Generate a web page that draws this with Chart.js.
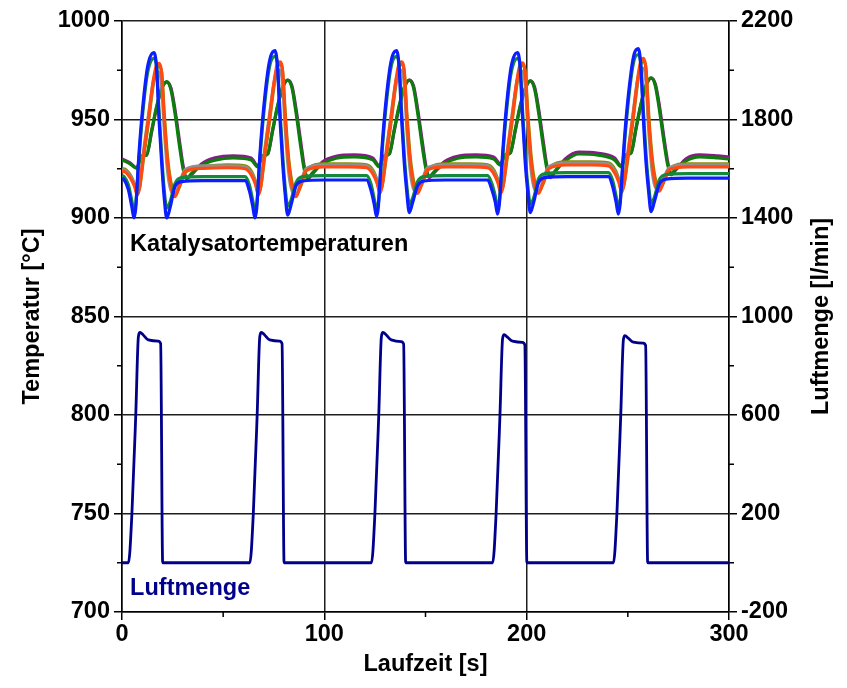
<!DOCTYPE html>
<html>
<head>
<meta charset="utf-8">
<script src="https://cdn.jsdelivr.net/npm/chart.js@4/dist/chart.umd.min.js"></script>
<style>
  html, body { margin: 0; padding: 0; background: #fff; }
  #wrap { width: 847px; height: 688px; }
</style>
</head>
<body>
<div id="wrap"><canvas id="c"></canvas></div>
<script>
// ── DATA ────────────────────────────────────────────────────────────────────
// time axis [s] per group of curves
const tA = [0, 1.0, 3.1, 4.8, 5.9, 6.8, 8.1, 9.7, 12.2, 13.8, 15.8, 17.1, 18.3, 19.6, 20.8, 22.1, 23.7, 26.2, 29.5, 40, 50,
  60.8, 62.9, 64.6, 65.7, 66.6, 67.9, 69.5, 72.0, 73.6, 75.6, 76.9, 78.1, 79.4, 80.6, 81.9, 83.5, 86.0, 89.3, 99.8, 109.8,
  120.9, 123.0, 124.7, 125.8, 126.7, 128.0, 129.6, 132.1, 133.7, 135.7, 137.0, 138.2, 139.5, 140.7, 142.0, 143.6, 146.1, 149.4, 159.9, 169.9,
  180.7, 182.8, 184.5, 185.6, 186.5, 187.8, 189.4, 191.9, 193.5, 195.5, 196.8, 198.0, 199.3, 200.5, 201.8, 203.4, 205.9, 209.2, 219.7, 229.7,
  240.4, 242.5, 244.2, 245.3, 246.2, 247.5, 249.1, 251.6, 253.2, 255.2, 256.5, 257.7, 259.0, 260.2, 261.5, 263.1, 265.6, 268.9, 279.4, 289.4, 300];
const blue = [920, 919.5, 914.5, 906, 900, 905, 928, 950, 974, 981.5, 984, 976, 950, 928, 911, 900, 905, 916, 918.5, 919, 919,
  919, 914, 906, 900, 905, 928, 950, 974, 982.5, 985, 976, 950, 928, 912.5, 901.5, 906.5, 916.3, 918.8, 919.3, 919.3,
  919.3, 914.3, 906.7, 900.7, 905.7, 928, 950, 974, 982.5, 985, 976, 950, 928, 913.7, 902.7, 907.7, 916.3, 918.8, 919.3, 919.3,
  919.3, 914.3, 908, 902, 907, 928, 950, 974, 981.5, 984, 976, 950, 928, 913.7, 902.7, 907.7, 918, 920.5, 921, 921,
  921, 916, 908, 902, 907, 928, 950, 974, 983.5, 986, 976, 950, 928, 914.2, 903.2, 908.2, 917.2, 919.7, 920.2, 920.2, 920.2];
const greenA = [921.5, 921, 917, 909, 904, 907, 926, 947, 971, 978.5, 981, 977, 954, 932, 915, 905, 908, 917.5, 920.5, 921, 921,
  921, 917, 909, 904, 907, 926, 947, 971, 979.5, 982, 977, 954, 932, 916, 906, 909, 918, 921, 921.5, 921.5,
  921.5, 917.5, 909.5, 904.5, 907.5, 926, 947, 971, 979.5, 982, 977, 954, 932, 917, 907, 910, 918.5, 921, 921.5, 921.5,
  921.5, 917.5, 911, 905.5, 908.5, 926, 947, 971, 978.5, 981, 977, 954, 932, 917, 907, 910, 920, 922.5, 923, 923,
  923, 919, 911, 905.5, 908.5, 926, 947, 971, 980.5, 983, 977, 954, 932, 917.5, 907.5, 910.5, 919.5, 922, 922.5, 922.5, 922.5];

const tB = [0, 1.0, 4.3, 6.2, 7.6, 8.8, 10.5, 13.0, 15.5, 17.1, 18.4, 19.6, 20.9, 22.6, 24.6, 26.2, 28.7, 31.1, 40, 52,
  60.8, 64.1, 66.0, 67.4, 68.6, 70.3, 72.8, 75.3, 76.9, 78.2, 79.4, 80.7, 82.4, 84.4, 86.0, 88.5, 90.9, 99.8, 111.8,
  120.9, 124.2, 126.1, 127.5, 128.7, 130.4, 132.9, 135.4, 137.0, 138.3, 139.5, 140.8, 142.5, 144.5, 146.1, 148.6, 151.0, 159.9, 171.9,
  180.7, 184.0, 185.9, 187.3, 188.5, 190.2, 192.7, 195.2, 196.8, 198.1, 199.3, 200.6, 202.3, 204.3, 205.9, 208.4, 210.8, 219.7, 231.7,
  240.4, 243.7, 245.6, 247.0, 248.2, 249.9, 252.4, 254.9, 256.5, 257.8, 259.0, 260.3, 262.0, 264.0, 265.6, 268.1, 270.5, 279.4, 291.4, 300];
const orange = [923.5, 923.5, 920, 916, 911.7, 916, 931, 950, 970, 977.7, 978.5, 973.4, 950, 927.8, 914.2, 910.8, 917.6, 923.5, 925.2, 925.5,
  925, 921.5, 917, 911.7, 916, 931, 950, 970, 978.5, 979.3, 974, 950, 927.8, 914.2, 910.8, 917.6, 924, 926, 926,
  925.5, 922, 917.5, 912.5, 917, 931, 950, 970, 978.5, 979.3, 974, 950, 928, 915, 912.5, 919, 924.5, 926, 926,
  925.5, 922, 917.5, 912.5, 917, 931, 950, 970, 978, 978.7, 973.5, 950, 928, 915, 912.5, 919, 925, 926.9, 926.9,
  926.4, 922.5, 918, 913, 917.5, 931, 950, 971, 980, 981, 975, 950, 928.5, 916, 913.6, 920, 924.5, 926, 926, 926];
const gray = [924.5, 924.5, 921, 917, 912.5, 917, 932.5, 951.5, 969.5, 974.5, 974, 967, 945, 923, 913, 912, 918.5, 924.5, 926.5, 926.5,
  926, 922.5, 918, 912.5, 917, 932.5, 951.5, 969.5, 975, 975, 968, 945, 923, 913, 912, 918.5, 925, 927, 927,
  926.5, 923, 918.5, 913.5, 918, 932.5, 951.5, 969.5, 975, 975, 968, 945, 923.5, 914, 913.5, 920, 925.5, 927, 927,
  926.5, 923, 918.5, 913.5, 918, 932.5, 951.5, 969.5, 974.5, 974.5, 967.5, 945, 923.5, 914, 913.5, 920, 926, 927.9, 927.9,
  927.5, 923.5, 919, 914, 918.5, 932.5, 951.5, 970.5, 976, 976, 969, 945, 924, 915, 914.6, 921, 925.5, 927, 927, 927];
const olive = [925, 925, 921.5, 917, 912.5, 916, 929, 948, 968, 976, 977, 974, 953, 930, 916, 912, 916.5, 923, 926, 927,
  926.5, 923.5, 918.5, 912.5, 916, 929, 948, 968, 977, 978, 974.5, 953, 930, 916, 912, 916.5, 924, 927.5, 927.5,
  927, 924, 919, 913.5, 917, 929, 948, 968, 977, 978, 974.5, 953, 930.5, 917, 913.5, 918, 924.5, 927.5, 927.5,
  927, 924, 919, 913.5, 917, 929, 948, 968, 976.5, 977.5, 974, 953, 930.5, 917, 913.5, 918, 925, 928.5, 928.5,
  928, 924.5, 919.5, 914, 917.5, 929, 948, 969, 978.5, 979.5, 975.5, 953, 931, 918, 914.6, 919, 925, 927.5, 927.5, 927.5];

const tC = [0, 4.0, 7.3, 9.7, 12.2, 14.7, 17.1, 19.6, 22.1, 24.2, 26.2, 28.7, 30.3, 31.9, 34.4, 39.4, 46, 55,
  63.8, 67.1, 69.5, 72.0, 74.5, 76.9, 79.4, 81.9, 84.0, 86.0, 88.5, 90.1, 91.7, 94.2, 99.2, 105.8, 114.8,
  123.9, 127.2, 129.6, 132.1, 134.6, 137.0, 139.5, 142.0, 144.1, 146.1, 148.6, 150.2, 151.8, 154.3, 159.3, 165.9, 174.9,
  183.7, 187.0, 189.4, 191.9, 194.4, 196.8, 199.3, 201.8, 203.9, 205.9, 208.4, 210.0, 211.6, 214.1, 219.1, 225.7, 234.7,
  243.4, 246.7, 249.1, 251.6, 254.1, 256.5, 259.0, 261.5, 263.6, 265.6, 268.1, 269.7, 271.3, 273.8, 278.8, 285.4, 294.4, 300];
const darkGreen = [929.5, 927.5, 925.2, 931.5, 932, 944.7, 956.5, 965.8, 969.2, 965, 953, 934.5, 924.4, 920.2, 922.7, 926.9, 929.4, 930.5,
  929.5, 926, 931.5, 932.5, 945, 957, 966.5, 970, 966, 953.5, 935, 924.5, 920.2, 923, 927.5, 930.3, 931,
  929.5, 926, 931.5, 932.5, 945, 957, 966.5, 970, 966, 953.5, 935, 925, 921, 923.5, 927.5, 930.3, 931,
  930, 926.9, 932, 933, 945, 957, 966, 969.6, 965.5, 953.5, 935, 925, 921, 924, 929, 932.5, 932,
  929.5, 926, 932, 933, 946, 958, 967.5, 971.2, 967, 955, 937, 927, 922.7, 925, 929, 931, 930.5, 930];
const purple = [930, 928, 925.5, 931.5, 932, 944, 956, 965.5, 969, 966, 955, 937, 926, 920, 922, 927.5, 930.5, 931.5,
  930.5, 926.5, 931.5, 932.5, 944.5, 956.5, 966, 970, 967, 955.5, 937.5, 926, 920, 922.5, 928.5, 931.3, 932,
  930.5, 926.5, 931.5, 932.5, 944.5, 956.5, 966, 970, 967, 955.5, 937.5, 926.5, 920.5, 923, 928.5, 931.3, 932,
  931, 927.5, 932, 933, 944.5, 956.5, 965.5, 969.6, 966.5, 955.5, 937.5, 926.5, 920.5, 923.5, 930, 933.5, 933,
  930.5, 926.5, 932, 933, 945.5, 957.5, 967, 971, 968, 957, 939, 928.5, 922, 924.5, 930, 932, 931.5, 931];

// air flow [l/min] on the right axis
const tAir = [0, 3.2, 4.9, 6.8, 8.1, 8.9, 10.5, 13.0, 17.9, 19.1, 20.1,
  63.2, 64.9, 66.8, 68.1, 68.9, 70.5, 73.0, 77.9, 79.1, 80.1,
  123.3, 125.0, 126.9, 128.2, 129.0, 130.6, 133.1, 138.0, 139.2, 140.2,
  183.2, 184.9, 186.8, 188.1, 188.9, 190.5, 193.0, 197.9, 199.1, 200.1,
  242.9, 244.6, 246.5, 247.8, 248.6, 250.2, 252.7, 257.6, 258.8, 259.8, 300];
const air = [0, 0, 200, 600, 918, 935, 925, 905, 900, 890, 0,
  0, 200, 600, 918, 935, 925, 905, 900, 890, 0,
  0, 200, 600, 918, 935, 925, 905, 898, 888, 0,
  0, 200, 600, 910, 926, 916, 900, 895, 885, 0,
  0, 200, 600, 905, 922, 912, 896, 892, 882, 0, 0];

// ticks
const xTicks = [0, 100, 200, 300];
const xMinor = [50, 150, 250];
const yMinor = [725, 775, 825, 875, 925, 975];
const y1Minor = [0, 400, 800, 1200, 1600, 2000];

// ── STYLE ───────────────────────────────────────────────────────────────────
const FONT = "'Liberation Sans', Arial, sans-serif";
const FS = 23.5;
const tickFont = { family: FONT, size: FS, weight: "bold" };
const gridCol = "#1e1e1e";
const plain = v => String(v);
const pts = (xs, ys) => xs.map((x, i) => ({ x, y: ys[i] }));
const temp = (label, xs, ys, color) => ({
  label, data: pts(xs, ys), yAxisID: "y",
  borderColor: color, borderWidth: 3.2, pointRadius: 0,
  cubicInterpolationMode: "monotone", fill: false,
});

// minor ticks, axis titles and in-plot labels
const extras = {
  id: "extras",
  afterDraw(chart) {
    const { ctx, chartArea: a, scales } = chart;
    ctx.save();
    ctx.strokeStyle = "#000";
    ctx.lineWidth = 1.5;
    ctx.beginPath();
    yMinor.forEach(v => { const p = scales.y.getPixelForValue(v); ctx.moveTo(a.left - 5, p); ctx.lineTo(a.left, p); });
    y1Minor.forEach(v => { const p = scales.y1.getPixelForValue(v); ctx.moveTo(a.right, p); ctx.lineTo(a.right + 5, p); });
    xMinor.forEach(v => { const p = scales.x.getPixelForValue(v); ctx.moveTo(p, a.bottom); ctx.lineTo(p, a.bottom + 5); });
    ctx.stroke();

    ctx.font = "bold " + FS + "px " + FONT;
    ctx.textBaseline = "middle";
    ctx.fillStyle = "#000";
    ctx.textAlign = "left";
    ctx.fillText("Katalysatortemperaturen", scales.x.getPixelForValue(4), scales.y.getPixelForValue(886.5));
    ctx.fillStyle = "#00008b";
    ctx.fillText("Luftmenge", scales.x.getPixelForValue(4), scales.y.getPixelForValue(712));

    ctx.fillStyle = "#000";
    ctx.textAlign = "center";
    ctx.fillText("Laufzeit [s]", (a.left + a.right) / 2, a.bottom + 53);
    const cy = (a.top + a.bottom) / 2;
    ctx.translate(33, cy); ctx.rotate(-Math.PI / 2);
    ctx.fillText("Temperatur [°C]", 0, 0);
    ctx.setTransform(1, 0, 0, 1, 0, 0);
    ctx.translate(822, cy); ctx.rotate(-Math.PI / 2);
    ctx.fillText("Luftmenge [l/min]", 0, 0);
    ctx.restore();
  },
};

new Chart(document.getElementById("c"), {
  type: "line",
  data: {
    datasets: [
      temp("T1", tA, blue, "#0a1eff"),
      temp("T2", tA, greenA, "#14893a"),
      temp("T3", tB, orange, "#ff4a12"),
      temp("T4", tB, gray, "#909090"),
      temp("T5", tB, olive, "#8a8a00"),
      temp("T6", tC, darkGreen, "#0d7d0d"),
      temp("T7", tC, purple, "#8a1a8a"),
      {
        label: "Luftmenge", data: pts(tAir, air), yAxisID: "y1",
        borderColor: "#00008b", borderWidth: 2.8, pointRadius: 0,
        cubicInterpolationMode: "monotone", fill: false,
      },
    ],
  },
  options: {
    responsive: true, maintainAspectRatio: false, animation: false,
    layout: { padding: { top: 21, left: 0, right: 0, bottom: 0 } },
    plugins: { legend: { display: false }, tooltip: { enabled: false } },
    scales: {
      x: {
        type: "linear", min: 0, max: 300,
        afterBuildTicks: s => { s.ticks = xTicks.map(v => ({ value: v })); },
        ticks: { color: "#000", font: tickFont, padding: 0, maxRotation: 0, callback: plain },
        grid: { color: gridCol, lineWidth: 1.5, tickLength: 8, tickColor: "#000" },
        border: { display: true, color: "#000", width: 1.5 },
        afterFit: s => { s.height = 76; },
      },
      y: {
        position: "left", min: 700, max: 1000,
        ticks: { stepSize: 50, color: "#000", font: tickFont, padding: 4, callback: plain },
        grid: { color: gridCol, lineWidth: 1.5, tickLength: 8, tickColor: "#000" },
        border: { display: true, color: "#000", width: 1.5 },
        afterFit: s => { s.width = 122; },
      },
      y1: {
        position: "right", min: -200, max: 2200,
        ticks: { stepSize: 400, color: "#000", font: tickFont, padding: 4, callback: plain },
        grid: { drawOnChartArea: false, tickLength: 8, tickColor: "#000", lineWidth: 1.5 },
        border: { display: true, color: "#000", width: 1.5 },
        afterFit: s => { s.width = 118; },
      },
    },
  },
  plugins: [extras],
});
</script>
</body>
</html>
